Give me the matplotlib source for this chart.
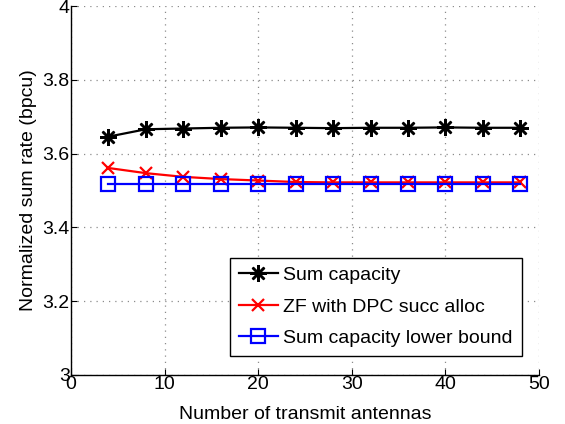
import matplotlib
matplotlib.use("Agg")
import matplotlib.pyplot as plt

plt.rcParams['font.family'] = ['Liberation Sans', 'DejaVu Sans']

antennas = [4, 8, 12, 16, 20, 24, 28, 32, 36, 40, 44, 48]
sum_capacity = [3.646, 3.666, 3.668, 3.670, 3.671, 3.670, 3.669, 3.670, 3.670, 3.671, 3.670, 3.670]
zf_dpc = [3.561, 3.547, 3.537, 3.531, 3.527, 3.523, 3.522, 3.522, 3.522, 3.522, 3.522, 3.522]
lower_bound = [3.518] * 12

labels = ['Sum capacity', 'ZF with DPC succ alloc', 'Sum capacity lower bound']

fig = plt.figure(figsize=(5.65, 4.24), dpi=100)
ax = fig.add_axes([0.1257, 0.1156, 0.8283, 0.8702])

ax.plot(antennas, sum_capacity, color='black', lw=1.6, marker=(8, 2, 0),
        ms=12, mew=1.8, label=labels[0])
ax.plot(antennas, zf_dpc, color='red', lw=1.6, marker='x',
        ms=9, mew=1.6, label=labels[1])
ax.plot(antennas, lower_bound, color='blue', lw=1.6, marker='s',
        ms=10.5, mew=1.6, mfc='none', label=labels[2])

ax.set_xlim(0, 50)
ax.set_ylim(3, 4)
ax.set_xticks([0, 10, 20, 30, 40, 50])
ax.set_yticks([3, 3.2, 3.4, 3.6, 3.8, 4])
ax.set_yticklabels(['3', '3.2', '3.4', '3.6', '3.8', '4'])

for s in ['top', 'right']:
    ax.spines[s].set_visible(False)
ax.spines['left'].set_linewidth(1)
ax.spines['bottom'].set_linewidth(1)

ax.tick_params(direction='in', length=4, labelsize=14, pad=1)
ax.grid(True, color='0.55', linestyle=(0, (1, 4)), linewidth=0.9)
ax.set_axisbelow(True)

ax.set_xlabel('Number of transmit antennas', fontsize=14, labelpad=9)
ax.set_ylabel('Normalized sum rate (bpcu)', fontsize=14, labelpad=4)

leg = ax.legend(loc='lower right', bbox_to_anchor=(0.963, 0.0515), borderaxespad=0,
                fontsize=14, fancybox=False, framealpha=1, edgecolor='black',
                handlelength=2.0, handletextpad=0.3, labelspacing=0.72,
                borderpad=0.45)
leg.get_frame().set_linewidth(1)

fig.savefig('out.png', dpi=100)
